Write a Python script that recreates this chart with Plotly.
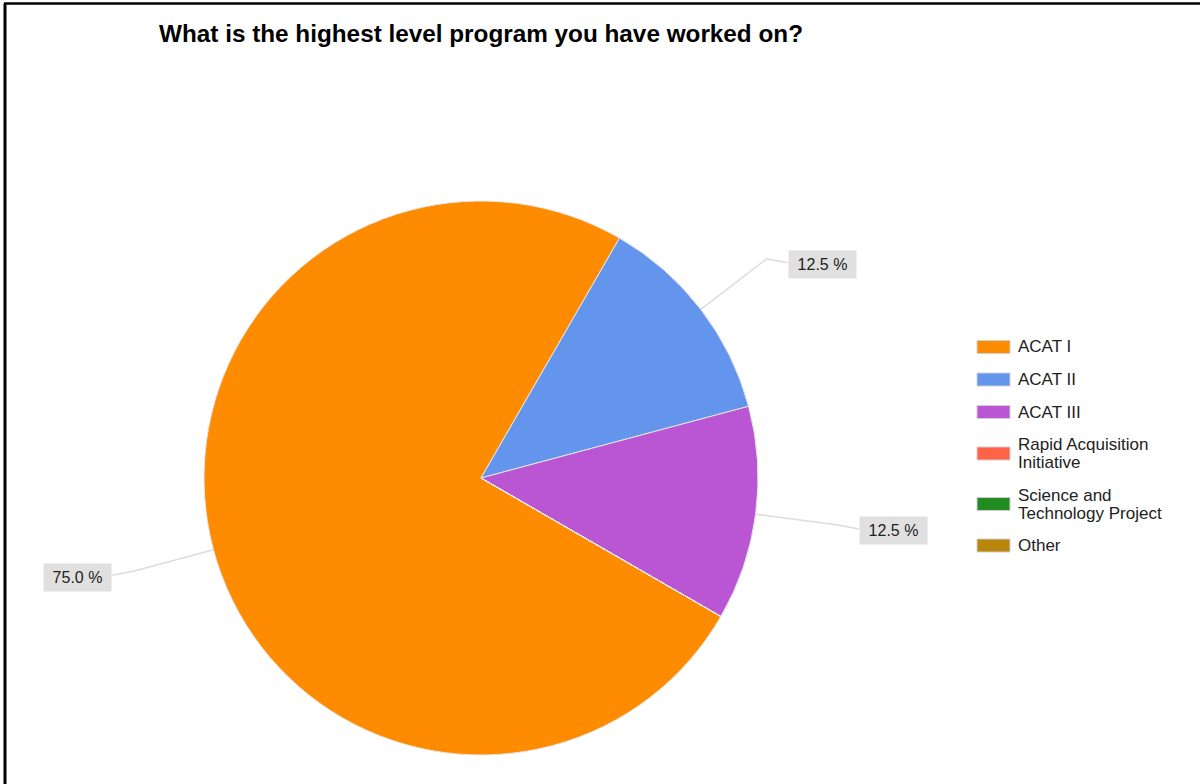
import math
import plotly.graph_objects as go

# ---- data ----
categories = ["ACAT I", "ACAT II", "ACAT III", "Rapid Acquisition<br>Initiative",
              "Science and<br>Technology Project", "Other"]
values = [75.0, 12.5, 12.5, 0.0, 0.0, 0.0]
colors = ["#FF8C00", "#6495ED", "#BA55D3", "#FF6347", "#228B22", "#B8860B"]
title = "What is the highest level program you have worked on?"

# ---- layout constants (pixels) ----
W, H = 1200, 784
CX, CY, R = 481, 478, 277
ROTATION = 120
FONT = "Arial, Liberation Sans, sans-serif"

fig = go.Figure()
fig.add_trace(go.Pie(
    labels=[c.replace("<br>", " ") for c in categories], values=values, sort=False,
    direction="clockwise", rotation=ROTATION, textinfo="none", hoverinfo="label+percent",
    marker=dict(colors=colors, line=dict(color="#e6e6e6", width=1)),
    domain=dict(x=[(CX - R) / W, (CX + R) / W],
                y=[(H - CY - R) / H, (H - CY + R) / H]),
    showlegend=False,
))

def px2paper(x, y):
    return x / W, 1 - y / H

shapes = []
annotations = []

# ---- outside percentage labels with elbow leader lines ----
total = sum(values)
start = ROTATION
for lab, v in zip(categories, values):
    span = 360 * v / total
    if v > 0:
        mid = math.radians(start + span / 2)
        sx, sy = math.sin(mid), -math.cos(mid)
        x0, y0 = CX + R * sx, CY + R * sy
        x1, y1 = CX + (R + 83) * sx, CY + (R + 83) * sy
        side = 1 if sx >= 0 else -1
        x2, y2 = x1 + side * 21, y1 + 4
        p = [px2paper(*q) for q in [(x0, y0), (x1, y1), (x2, y2)]]
        shapes.append(dict(type="path", xref="paper", yref="paper",
                           path="M {} {} L {} {} L {} {}".format(p[0][0], p[0][1], p[1][0], p[1][1], p[2][0], p[2][1]),
                           line=dict(color="#dcdcdc", width=1.5)))
        ax, ay = px2paper(x2, y2 + 2)
        annotations.append(dict(
            x=ax, y=ay, xref="paper", yref="paper", showarrow=False,
            xanchor="left" if side > 0 else "right", yanchor="middle",
            text=f"{v / total * 100:.1f} %", width=65, height=25,
            bgcolor="#e0e0e0", font=dict(family=FONT, size=16, color="#222222"),
        ))
    start += span

# ---- legend (wide swatches, like the original) ----
LEG_X, LEG_TOP, LINE_H, GAP = 977, 338, 18, 14.5
SW_W, SW_H, TEXT_X = 33, 13, 1016
ytop = LEG_TOP
for lab, col in zip(categories, colors):
    lines = lab.split("<br>")
    block = LINE_H * len(lines)
    yc = ytop + block / 2
    a, b = px2paper(LEG_X, yc - SW_H / 2)
    c, d = px2paper(LEG_X + SW_W, yc + SW_H / 2)
    shapes.append(dict(type="rect", xref="paper", yref="paper", x0=a, y0=b, x1=c, y1=d,
                       fillcolor=col, line=dict(color="#d0d0d0", width=1)))
    for i, ln in enumerate(lines):
        tx, ty = px2paper(TEXT_X, ytop + LINE_H * (i + 0.5))
        annotations.append(dict(x=tx, y=ty, xref="paper", yref="paper", showarrow=False,
                                xanchor="left", yanchor="middle", text=ln,
                                font=dict(family=FONT, size=17, color="#222222")))
    ytop += block + GAP

# frame lines (top and left border of the screenshot)
shapes.append(dict(type="line", xref="paper", yref="paper", x0=4 / W, x1=1, y0=1 - 3.5 / H, y1=1 - 3.5 / H,
                   line=dict(color="#000000", width=2.5)))
shapes.append(dict(type="line", xref="paper", yref="paper", x0=5 / W, x1=5 / W, y0=0, y1=1 - 3.5 / H,
                   line=dict(color="#000000", width=3)))

fig.update_layout(
    width=W, height=H,
    margin=dict(l=0, r=0, t=0, b=0),
    paper_bgcolor="white", plot_bgcolor="white",
    title=dict(text=f"<b>{title}</b>", x=CX / W, xanchor="center", y=1 - 33 / H, yanchor="middle",
               font=dict(family=FONT, size=24.3, color="#000000")),
    showlegend=False,
    shapes=shapes, annotations=annotations,
)

fig.write_html("out.html", config={"displayModeBar": False},
               post_script="document.body.style.margin='0';document.body.style.padding='0';")
